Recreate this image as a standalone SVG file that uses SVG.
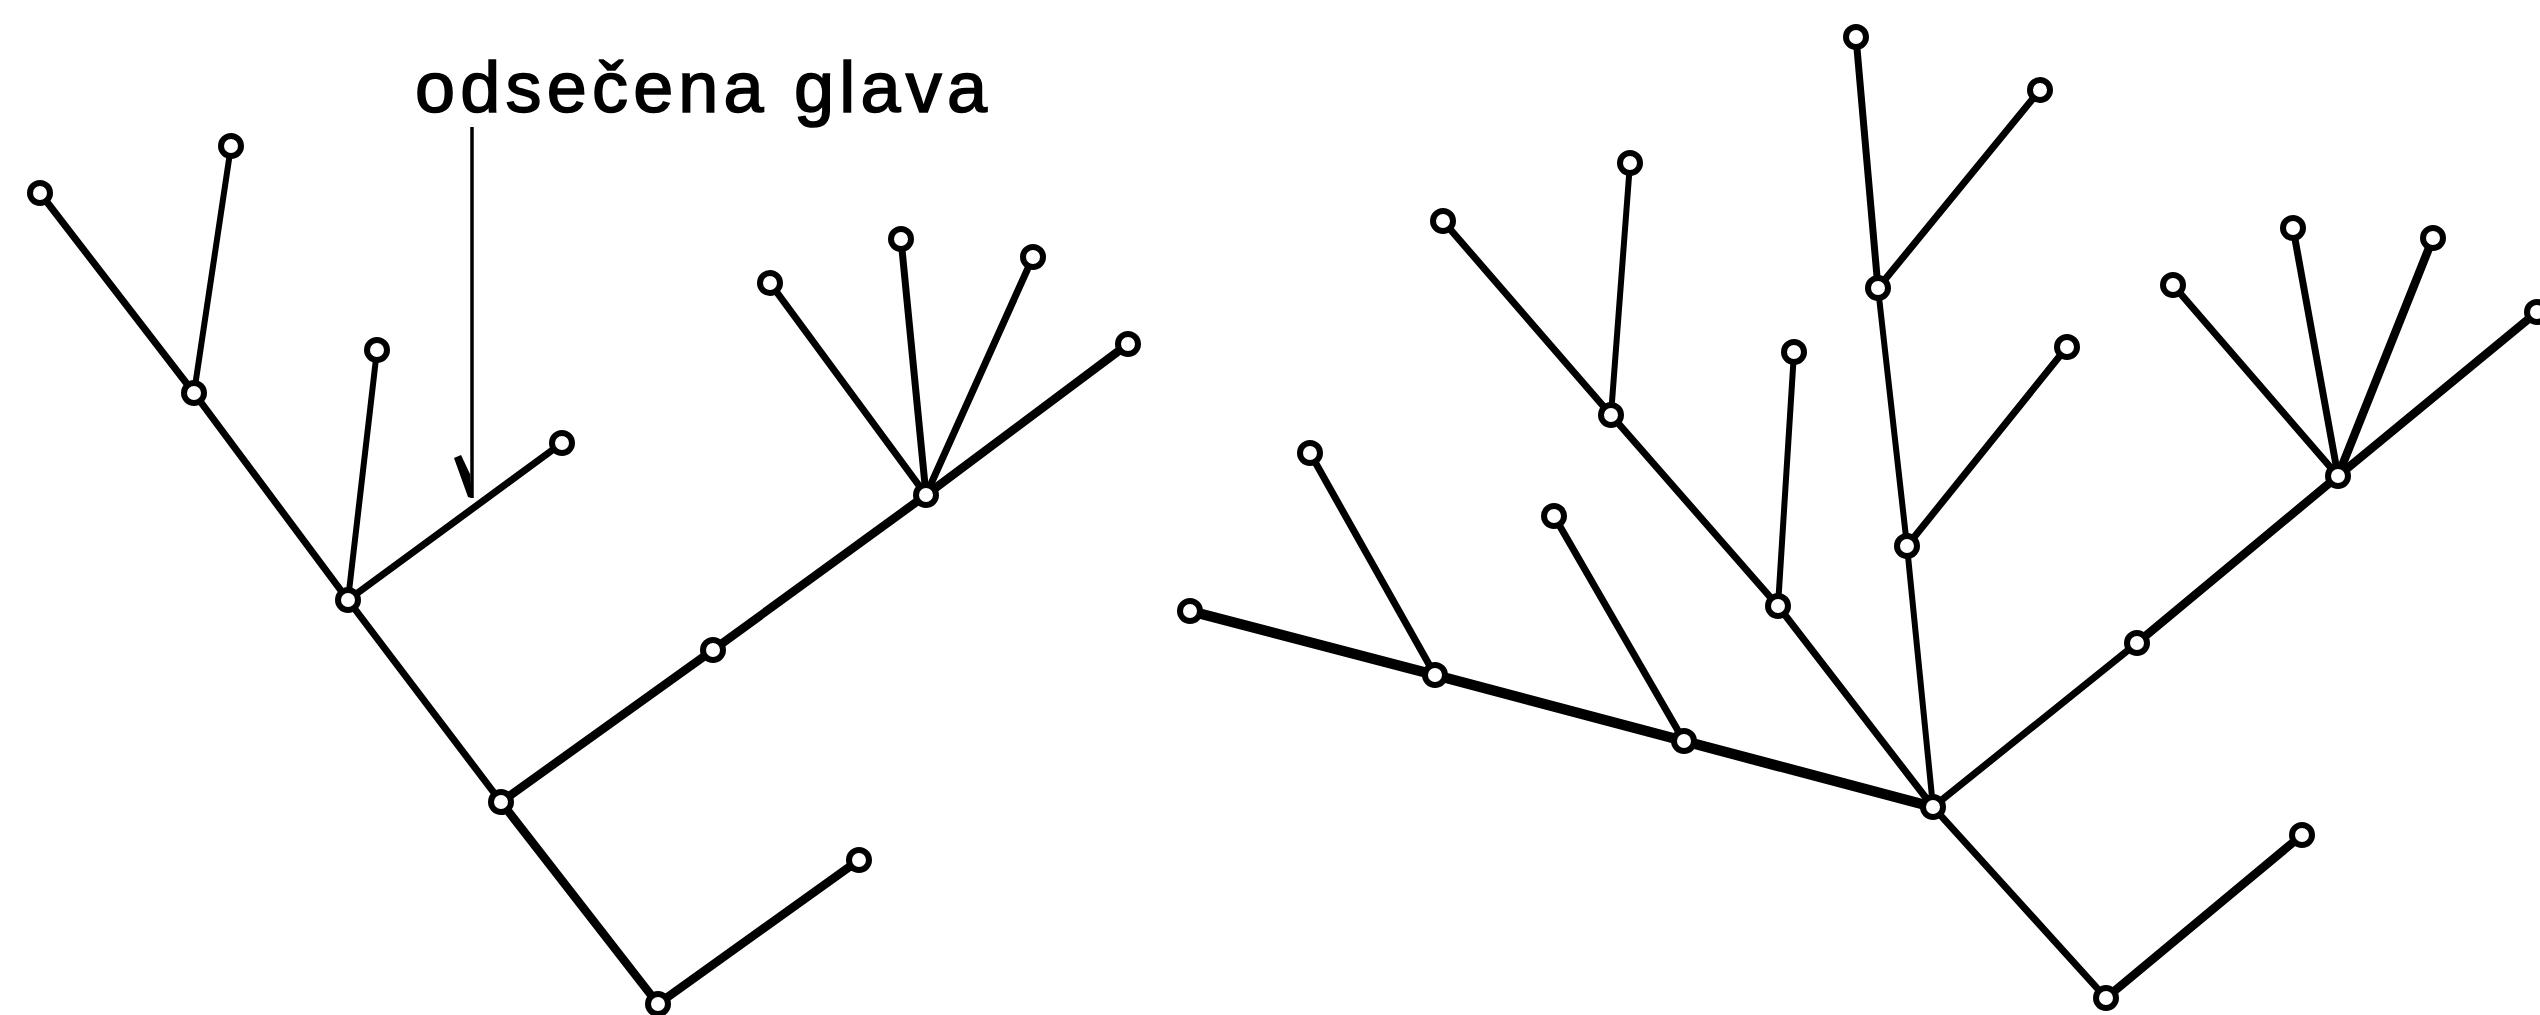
<svg xmlns="http://www.w3.org/2000/svg" width="2540" height="1015" viewBox="0 0 2540 1015">
<style>
.e{stroke:#000;stroke-width:7;stroke-linecap:round;fill:none}
.t{stroke-width:6}
.k{stroke-width:8.5}
.kk{stroke-width:10.5}
.n{fill:#fff;stroke:#000;stroke-width:6}
.lbl{font-family:"Liberation Sans",Arial,sans-serif;font-size:72px;fill:#000;stroke:#000;stroke-width:1.6}
</style>
<rect width="2540" height="1015" fill="#fff"/>
<text class="lbl" x="415" y="112" textLength="572" lengthAdjust="spacing">odsečena glava</text>
<g id="arrow">
<line x1="472" y1="127" x2="472" y2="498" stroke="#000" stroke-width="3.5"/>
<path d="M454,458 L461,455 L470,474 L472,498 L468,497 Z" fill="#000"/>
</g>
<g id="connectors">
<!-- left tree -->
<line class="e k" x1="658" y1="1004" x2="501" y2="802"/>
<line class="e" x1="501" y1="802" x2="348" y2="600"/>
<line class="e" x1="348" y1="600" x2="194" y2="393"/>
<line class="e" x1="194" y1="393" x2="40" y2="193"/>
<line class="e t" x1="194" y1="393" x2="231" y2="146"/>
<line class="e t" x1="348" y1="600" x2="377" y2="350"/>
<line class="e" x1="348" y1="600" x2="562" y2="443"/>
<line class="e k" x1="501" y1="802" x2="713" y2="650"/>
<line class="e k" x1="713" y1="650" x2="926" y2="495"/>
<line class="e" x1="926" y1="495" x2="770" y2="283"/>
<line class="e" x1="926" y1="495" x2="901" y2="239"/>
<line class="e" x1="926" y1="495" x2="1033" y2="257"/>
<line class="e k" x1="926" y1="495" x2="1128" y2="344"/>
<line class="e k" x1="658" y1="1004" x2="859" y2="860"/>
<!-- right tree -->
<line class="e kk" x1="1933" y1="807" x2="1684" y2="741"/>
<line class="e kk" x1="1684" y1="741" x2="1435" y2="675"/>
<line class="e kk" x1="1435" y1="675" x2="1190" y2="611"/>
<line class="e" x1="1435" y1="675" x2="1310" y2="453"/>
<line class="e" x1="1684" y1="741" x2="1554" y2="516"/>
<line class="e" x1="1933" y1="807" x2="1778" y2="606"/>
<line class="e t" x1="1778" y1="606" x2="1794" y2="352"/>
<line class="e" x1="1778" y1="606" x2="1611" y2="415"/>
<line class="e" x1="1611" y1="415" x2="1443" y2="221"/>
<line class="e t" x1="1611" y1="415" x2="1630" y2="163"/>
<line class="e t" x1="1933" y1="807" x2="1907" y2="546"/>
<line class="e" x1="1907" y1="546" x2="2067" y2="347"/>
<line class="e t" x1="1907" y1="546" x2="1878" y2="288"/>
<line class="e" x1="1878" y1="288" x2="1856" y2="37"/>
<line class="e" x1="1878" y1="288" x2="2040" y2="90"/>
<line class="e" x1="1933" y1="807" x2="2137" y2="643"/>
<line class="e k" x1="2137" y1="643" x2="2338" y2="476"/>
<line class="e" x1="2338" y1="476" x2="2173" y2="285"/>
<line class="e" x1="2338" y1="476" x2="2293" y2="228"/>
<line class="e k" x1="2338" y1="476" x2="2433" y2="238"/>
<line class="e k" x1="2338" y1="476" x2="2537" y2="312"/>
<line class="e" x1="1933" y1="807" x2="2106" y2="998"/>
<line class="e k" x1="2106" y1="998" x2="2302" y2="835"/>
</g>
<g id="nodes">
<g id="L_A"><circle class="n" cx="40" cy="193" r="10"/></g>
<g id="L_B"><circle class="n" cx="231" cy="146" r="10"/></g>
<g id="L_N1"><circle class="n" cx="194" cy="393" r="10"/></g>
<g id="L_C"><circle class="n" cx="377" cy="350" r="10"/></g>
<g id="L_N2"><circle class="n" cx="348" cy="600" r="10"/></g>
<g id="L_D"><circle class="n" cx="562" cy="443" r="10"/></g>
<g id="L_N3"><circle class="n" cx="501" cy="802" r="10"/></g>
<g id="L_N4"><circle class="n" cx="713" cy="650" r="10"/></g>
<g id="L_N5"><circle class="n" cx="926" cy="495" r="10"/></g>
<g id="L_E"><circle class="n" cx="770" cy="283" r="10"/></g>
<g id="L_F"><circle class="n" cx="901" cy="239" r="10"/></g>
<g id="L_G"><circle class="n" cx="1033" cy="257" r="10"/></g>
<g id="L_H"><circle class="n" cx="1128" cy="344" r="10"/></g>
<g id="L_N6"><circle class="n" cx="658" cy="1004" r="10"/></g>
<g id="L_I"><circle class="n" cx="859" cy="860" r="10"/></g>
<g id="R_root"><circle class="n" cx="1933" cy="807" r="10"/></g>
<g id="R_a1"><circle class="n" cx="1684" cy="741" r="10"/></g>
<g id="R_a2"><circle class="n" cx="1435" cy="675" r="10"/></g>
<g id="R_a3"><circle class="n" cx="1190" cy="611" r="10"/></g>
<g id="R_a4"><circle class="n" cx="1310" cy="453" r="10"/></g>
<g id="R_a5"><circle class="n" cx="1554" cy="516" r="10"/></g>
<g id="R_b1"><circle class="n" cx="1778" cy="606" r="10"/></g>
<g id="R_b2"><circle class="n" cx="1794" cy="352" r="10"/></g>
<g id="R_b3"><circle class="n" cx="1611" cy="415" r="10"/></g>
<g id="R_b4"><circle class="n" cx="1443" cy="221" r="10"/></g>
<g id="R_b5"><circle class="n" cx="1630" cy="163" r="10"/></g>
<g id="R_c1"><circle class="n" cx="1907" cy="546" r="10"/></g>
<g id="R_c2"><circle class="n" cx="2067" cy="347" r="10"/></g>
<g id="R_c3"><circle class="n" cx="1878" cy="288" r="10"/></g>
<g id="R_c4"><circle class="n" cx="1856" cy="37" r="10"/></g>
<g id="R_c5"><circle class="n" cx="2040" cy="90" r="10"/></g>
<g id="R_d1"><circle class="n" cx="2137" cy="643" r="10"/></g>
<g id="R_d2"><circle class="n" cx="2338" cy="476" r="10"/></g>
<g id="R_d3"><circle class="n" cx="2173" cy="285" r="10"/></g>
<g id="R_d4"><circle class="n" cx="2293" cy="228" r="10"/></g>
<g id="R_d5"><circle class="n" cx="2433" cy="238" r="10"/></g>
<g id="R_d6"><circle class="n" cx="2537" cy="312" r="10"/></g>
<g id="R_e1"><circle class="n" cx="2106" cy="998" r="10"/></g>
<g id="R_e2"><circle class="n" cx="2302" cy="835" r="10"/></g>
</g>
</svg>
